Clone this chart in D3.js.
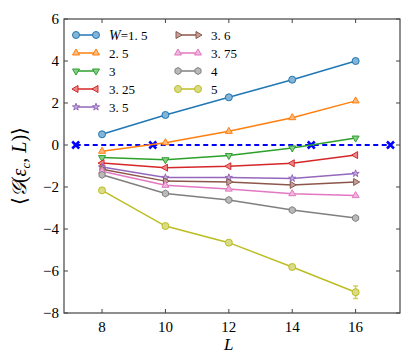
<!DOCTYPE html>
<html>
<head>
<meta charset="utf-8">
<script src="https://cdn.jsdelivr.net/npm/d3@7"></script>
<style>
  body { margin: 0; background: #fff; }
  text { font-family: "Liberation Serif", "DejaVu Serif", serif; }
</style>
</head>
<body>
<svg id="chart" width="415" height="363"></svg>
<script>
// chart values
const sizes = [8, 10, 12, 14, 16]
const disorder = ['W=1.5', '2. 5', '3', '3. 25', '3. 5', '3. 6', '3. 75', '4', '5']
const g15 = [0.51, 1.43, 2.27, 3.11, 4.0]
const g25 = [-0.3, 0.11, 0.65, 1.3, 2.1]
const g3 = [-0.6, -0.7, -0.5, -0.14, 0.33]
const g325 = [-0.86, -1.08, -1.01, -0.87, -0.48]
const g35 = [-1.05, -1.55, -1.55, -1.59, -1.36]
const g36 = [-1.15, -1.72, -1.76, -1.9, -1.76]
const g375 = [-1.25, -1.92, -2.1, -2.32, -2.41]
const g4 = [-1.42, -2.31, -2.62, -3.1, -3.48]
const g5 = [-2.16, -3.86, -4.65, -5.81, -7.01]
const err5 = [0.05, 0.08, 0.08, 0.1, 0.3]
const crossL = [7.17, 9.6, 14.6, 17.1]
const xTicks = [8, 10, 12, 14, 16]
const yTicks = [-8, -6, -4, -2, 0, 2, 4, 6]

const colors = ['#1f77b4', '#ff7f0e', '#2ca02c', '#d62728', '#9467bd',
  '#8c564b', '#e377c2', '#7f7f7f', '#bcbd22']
const markers = ['circle', 'up', 'down', 'left', 'star', 'right', 'up', 'hex', 'circle']
const values = [g15, g25, g3, g325, g35, g36, g375, g4, g5]
const series = disorder.map((name, i) => ({
  name: name, color: colors[i], marker: markers[i], vals: values[i],
  err: i === 8 ? err5 : null,
}))

const svg = d3.select('#chart')
const m = { left: 64, top: 19, right: 15, bottom: 50 }
const w = 415 - m.left - m.right
const h = 363 - m.top - m.bottom

const x = d3.scaleLinear().domain([6.8, 17.4]).range([0, w])
const y = d3.scaleLinear().domain([-8, 6]).range([h, 0])

const g = svg.append('g').attr('transform', `translate(${m.left},${m.top})`)

function markerPath(type, r) {
  if (type === 'circle') return d3.symbol(d3.symbolCircle, Math.PI * r * r)()
  if (type === 'star') return d3.symbol(d3.symbolStar, r * r * 1.3)()
  if (type === 'hex') {
    const pts = d3.range(6).map(k => {
      const a = Math.PI / 3 * k + Math.PI / 6
      return [r * Math.cos(a), r * Math.sin(a)]
    })
    return 'M' + pts.join('L') + 'Z'
  }
  const rot = { up: -90, down: 90, left: 180, right: 0 }[type]
  const pts = [0, 120, 240].map(k => {
    const a = (k + rot) * Math.PI / 180
    return [r * 1.15 * Math.cos(a), r * 1.15 * Math.sin(a)]
  })
  return 'M' + pts.join('L') + 'Z'
}

function drawMarker(sel, s, cx, cy) {
  sel.append('path')
    .attr('d', markerPath(s.marker, 3.5))
    .attr('transform', `translate(${cx},${cy})`)
    .attr('fill', d3.interpolateRgb(s.color, '#fff')(0.45))
    .attr('stroke', s.color)
    .attr('stroke-width', 1)
}

// dashed zero line with crosses
g.append('line')
  .attr('x1', x(crossL[0])).attr('x2', x(crossL[crossL.length - 1]))
  .attr('y1', y(0)).attr('y2', y(0))
  .attr('stroke', '#0000ff').attr('stroke-width', 2)
  .attr('stroke-dasharray', '5,3.5')
crossL.forEach(l => {
  g.append('path')
    .attr('d', 'M-3.5,-3.5L3.5,3.5M-3.5,3.5L3.5,-3.5')
    .attr('transform', `translate(${x(l)},${y(0)})`)
    .attr('stroke', '#0000ff').attr('stroke-width', 2.5)
})

const line = d3.line().x((d, i) => x(sizes[i])).y(d => y(d))

series.forEach(s => {
  g.append('path')
    .attr('d', line(s.vals))
    .attr('fill', 'none')
    .attr('stroke', s.color)
    .attr('stroke-width', 1.5)
  if (s.err) {
    s.vals.forEach((v, i) => {
      const e = s.err[i]
      const cx = x(sizes[i])
      g.append('path')
        .attr('d', `M${cx},${y(v - e)}V${y(v + e)}M${cx - 2.5},${y(v - e)}H${cx + 2.5}M${cx - 2.5},${y(v + e)}H${cx + 2.5}`)
        .attr('stroke', d3.interpolateRgb(s.color, '#fff')(0.3))
        .attr('stroke-width', 1.5).attr('fill', 'none')
    })
  }
  s.vals.forEach((v, i) => drawMarker(g, s, x(sizes[i]), y(v)))
})

// frame and inward ticks
g.append('rect').attr('width', w).attr('height', h)
  .attr('fill', 'none').attr('stroke', '#444').attr('stroke-width', 1.2)

xTicks.forEach(t => {
  g.append('line').attr('x1', x(t)).attr('x2', x(t)).attr('y1', h).attr('y2', h - 4)
    .attr('stroke', '#444')
  g.append('line').attr('x1', x(t)).attr('x2', x(t)).attr('y1', 0).attr('y2', 4)
    .attr('stroke', '#444')
  g.append('text').attr('x', x(t)).attr('y', h + 19)
    .attr('text-anchor', 'middle').attr('font-size', 15).text(t)
})
yTicks.forEach(t => {
  g.append('line').attr('x1', 0).attr('x2', 4).attr('y1', y(t)).attr('y2', y(t))
    .attr('stroke', '#444')
  g.append('line').attr('x1', w).attr('x2', w - 4).attr('y1', y(t)).attr('y2', y(t))
    .attr('stroke', '#444')
  g.append('text').attr('x', -5).attr('y', y(t) + 5)
    .attr('text-anchor', 'end').attr('font-size', 15)
    .text(t < 0 ? '\u2212' + (-t) : t)
})

// axis labels
g.append('text').attr('x', x(12)).attr('y', h + 37)
  .attr('text-anchor', 'middle').attr('font-size', 17).attr('font-style', 'italic').text('L')

const yl = svg.append('text')
  .attr('transform', `translate(26,${m.top + h / 2}) rotate(-90)`)
  .attr('text-anchor', 'middle').attr('font-size', 20)
yl.append('tspan').text('\u27E8')
yl.append('tspan').attr('font-family', 'DejaVu Sans').attr('font-style', 'italic').text('\uD835\uDCA2')
yl.append('tspan').text('(')
yl.append('tspan').attr('font-style', 'italic').text('\u03B5')
yl.append('tspan').attr('font-size', 13).attr('font-style', 'italic').attr('dy', 4).text('c')
yl.append('tspan').attr('dy', -4).text(', ')
yl.append('tspan').attr('font-style', 'italic').text('L')
yl.append('tspan').text(')\u27E9')

// legend, two columns
const leg = g.append('g')
series.forEach((s, i) => {
  const col = i < 5 ? 0 : 1
  const row = i < 5 ? i : i - 5
  const lx = col === 0 ? 12 : 114
  const ly = 16 + row * 18
  leg.append('line').attr('x1', lx).attr('x2', lx + 20).attr('y1', ly).attr('y2', ly)
    .attr('stroke', s.color).attr('stroke-width', 1.5)
  drawMarker(leg, s, lx, ly)
  drawMarker(leg, s, lx + 20, ly)
  const t = leg.append('text').attr('x', lx + 33).attr('y', ly + 5).attr('font-size', 13)
  if (s.name.startsWith('W')) {
    t.append('tspan').attr('font-style', 'italic').attr('font-size', 14).text('W')
    t.append('tspan').text('=1. 5')
  } else {
    t.text(s.name)
  }
})
</script>
</body>
</html>
